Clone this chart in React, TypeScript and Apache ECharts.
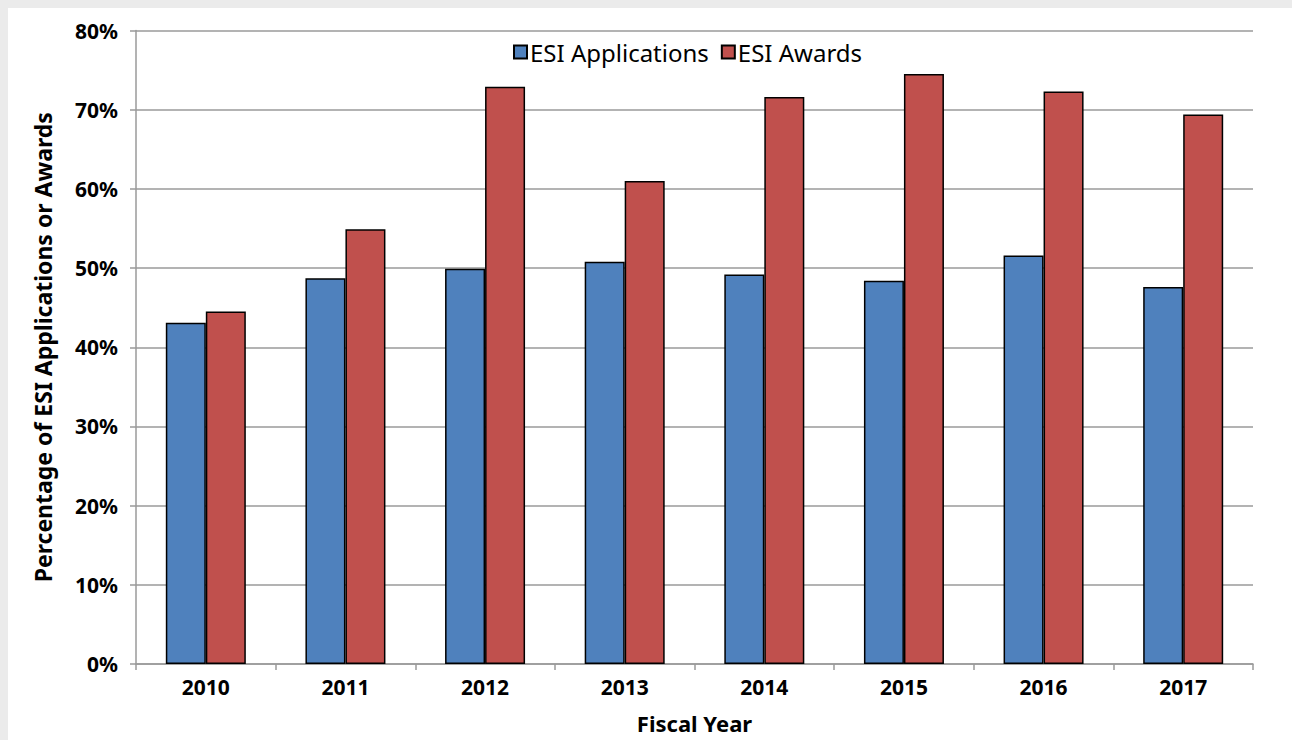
import React, { useEffect, useRef } from "react";
import * as echarts from "echarts";

const years = ["2010", "2011", "2012", "2013", "2014", "2015", "2016", "2017"];
const applications = [43.1, 48.7, 49.9, 50.8, 49.2, 48.4, 51.6, 47.6];
const awards = [44.5, 54.9, 72.9, 61.0, 71.6, 74.5, 72.3, 69.4];
const yTicks = [0, 10, 20, 30, 40, 50, 60, 70, 80];

const FONT = "'Noto Sans', 'Open Sans', sans-serif";

export default function App() {
  const ref = useRef<HTMLDivElement>(null);
  useEffect(() => {
    if (!ref.current) return;
    const chart = echarts.init(ref.current, undefined, { renderer: "svg" });
    chart.setOption({
      animation: false,
      backgroundColor: "#ffffff",
      legend: {
        top: 27,
        left: 500,
        itemWidth: 13,
        itemHeight: 13,
        itemGap: 12,
        icon: "rect",
        textStyle: { fontFamily: FONT, fontSize: 24, color: "#000", padding: [0, 0, 0, -2] },
        data: ["ESI Applications", "ESI Awards"],
      },
      grid: { left: 128, right: 39, top: 22.5, bottom: 76, containLabel: false, outerBoundsMode: "none" },
      xAxis: {
        type: "category",
        data: years,
        name: "Fiscal Year",
        nameLocation: "middle",
        nameGap: 48,
        nameTextStyle: { fontFamily: FONT, fontSize: 22, fontWeight: "bold", color: "#000" },
        axisLine: { lineStyle: { color: "#9a9a9a", width: 1.5 } },
        axisTick: { show: true, length: 6, lineStyle: { color: "#9a9a9a", width: 1.5 } },
        axisLabel: { fontFamily: FONT, fontSize: 21, fontWeight: "bold", color: "#000", margin: 12 },
      },
      yAxis: {
        type: "value",
        min: yTicks[0],
        max: yTicks[yTicks.length - 1],
        interval: 10,
        name: "Percentage of ESI Applications or Awards",
        nameLocation: "middle",
        nameGap: 82,
        nameTextStyle: { fontFamily: FONT, fontSize: 23, fontWeight: "bold", color: "#000" },
        axisLine: { show: true, lineStyle: { color: "#9a9a9a", width: 1.5 } },
        axisTick: { show: true, length: 6, lineStyle: { color: "#9a9a9a", width: 1.5 } },
        axisLabel: {
          fontFamily: FONT,
          fontSize: 21,
          fontWeight: "bold",
          color: "#000",
          margin: 18,
          formatter: (v: number) => `${v}%`,
        },
        splitLine: { lineStyle: { color: "#9a9a9a", width: 1.5 } },
      },
      series: [
        {
          name: "ESI Applications",
          type: "bar",
          data: applications,
          barWidth: 40,
          barGap: "0%",
          itemStyle: { color: "#4f81bd", borderColor: "#000", borderWidth: 1.5 },
        },
        {
          name: "ESI Awards",
          type: "bar",
          data: awards,
          barWidth: 40,
          barGap: "0%",
          itemStyle: { color: "#c0504d", borderColor: "#000", borderWidth: 1.5 },
        },
      ],
    });
    return () => chart.dispose();
  }, []);
  return (
    <div style={{ position: "absolute", left: 0, top: 0, width: 1292, height: 740, background: "#ebebeb" }}>
      <div style={{ position: "absolute", left: 8, top: 8, width: 1284, height: 732, background: "#fff" }}>
        <div ref={ref} style={{ width: 1284, height: 732 }} />
      </div>
    </div>
  );
}
